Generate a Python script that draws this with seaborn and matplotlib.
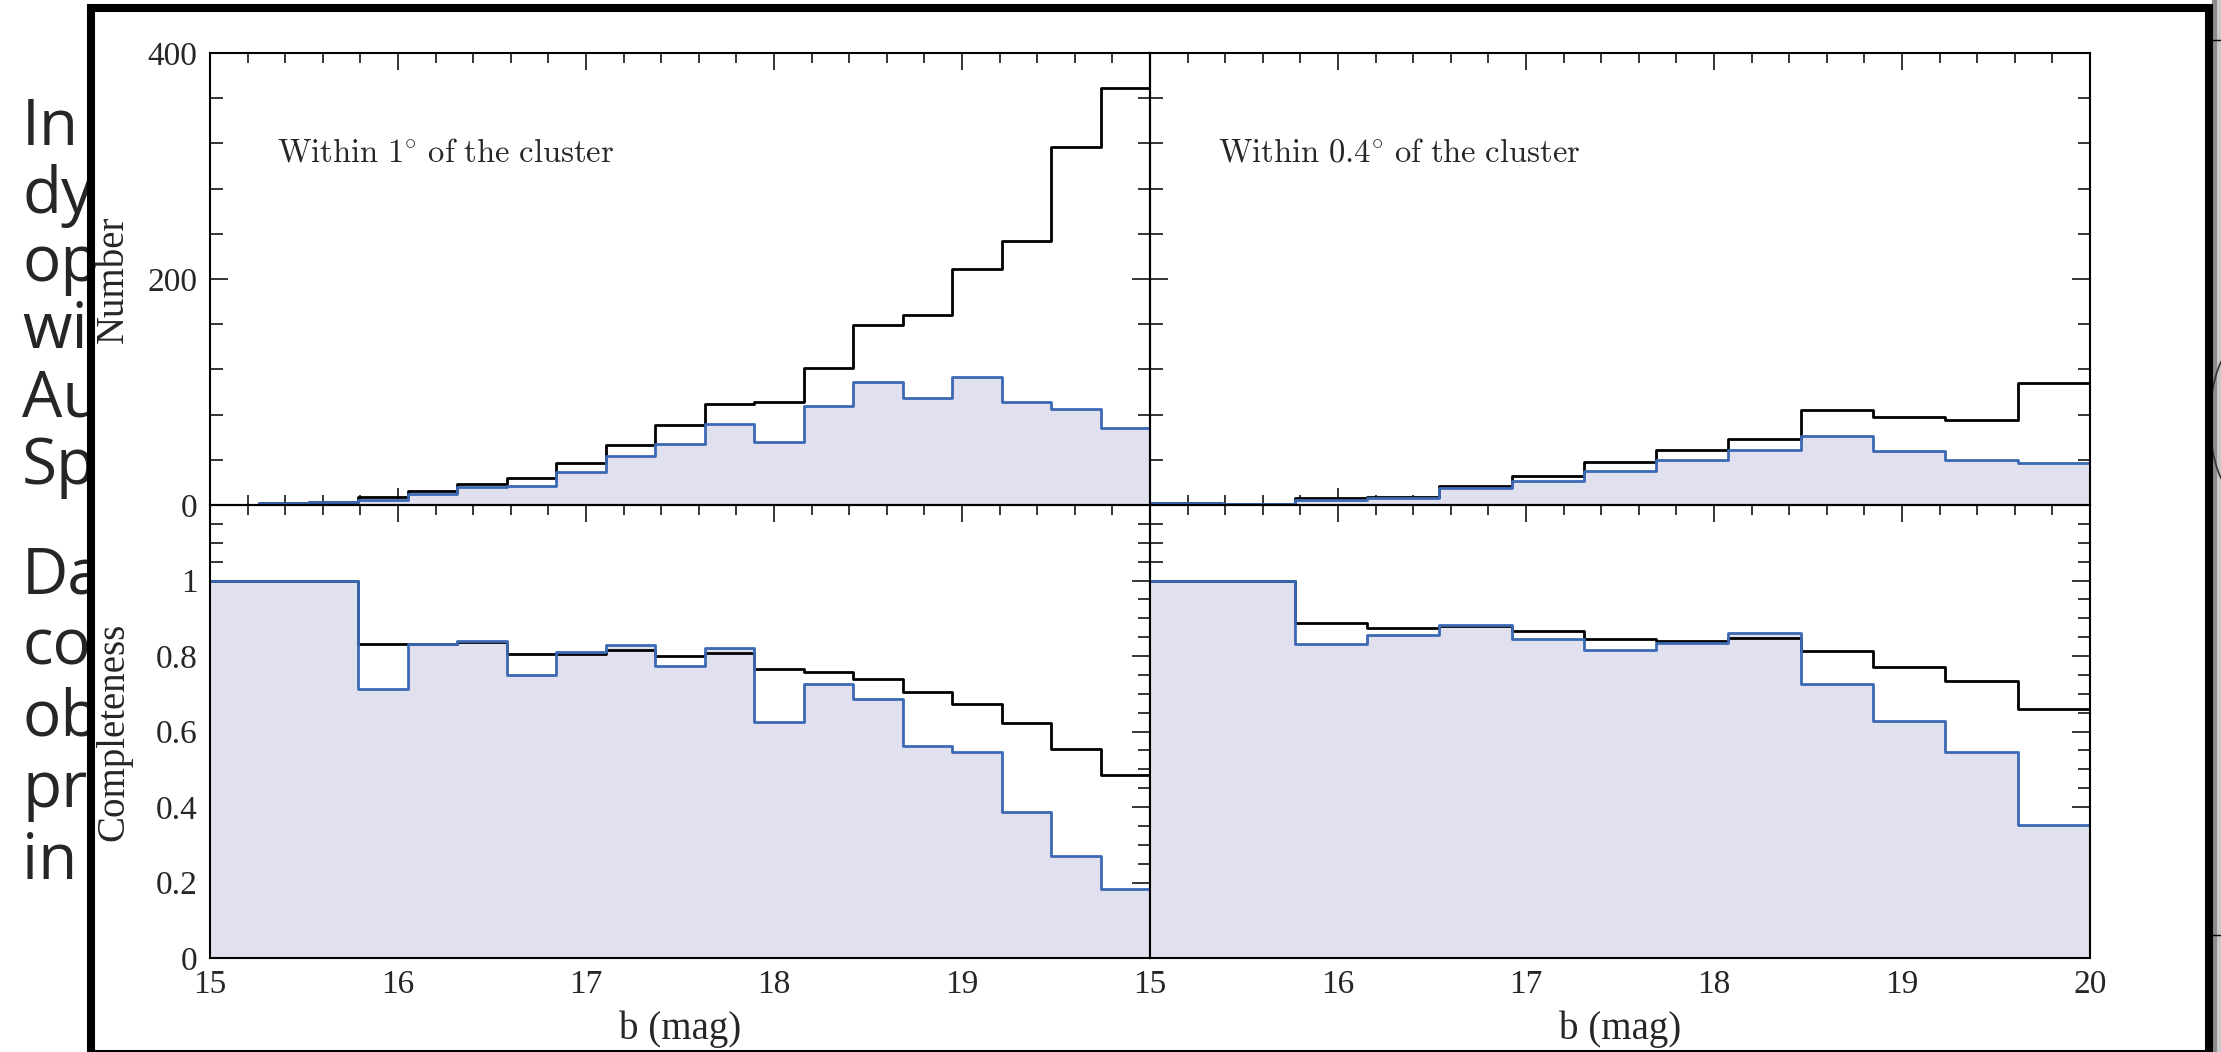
import numpy as np
import pandas as pd
import matplotlib
matplotlib.use("Agg")
import matplotlib.pyplot as plt
import seaborn as sns
from matplotlib.patches import Rectangle, Arc
from matplotlib.lines import Line2D
from matplotlib.ticker import MultipleLocator

# ---------------- data ----------------
mag_min, mag_max = 15.0, 20.0
n_bins_1deg = 19
n_bins_04deg = 13

number_all_1deg = [0, 2, 3, 7, 12, 19, 24, 37, 53, 71, 89, 91, 121, 159, 168, 209, 234, 317, 369]
number_sel_1deg = [0, 2, 3, 4, 10, 16, 17, 29, 43, 54, 72, 56, 88, 109, 95, 113, 91, 85, 68]
number_all_04deg = [2, 1, 6, 7, 17, 26, 38, 49, 58, 84, 78, 75, 108]
number_sel_04deg = [2, 1, 4, 6, 15, 21, 30, 40, 49, 61, 48, 40, 37]

comp_all_1deg = [1, 1, 1, 0.832, 0.832, 0.836, 0.804, 0.806, 0.816, 0.801, 0.807,
                 0.766, 0.757, 0.740, 0.705, 0.674, 0.623, 0.553, 0.484]
comp_sel_1deg = [1, 1, 1, 0.713, 0.832, 0.841, 0.749, 0.811, 0.829, 0.773, 0.820,
                 0.626, 0.726, 0.685, 0.562, 0.545, 0.388, 0.269, 0.183]
comp_all_04deg = [1, 1, 0.888, 0.875, 0.880, 0.865, 0.845, 0.841, 0.849, 0.814, 0.772, 0.734, 0.659]
comp_sel_04deg = [1, 1, 0.832, 0.855, 0.883, 0.845, 0.816, 0.835, 0.862, 0.726, 0.628, 0.545, 0.351]

panel_labels = [r"$\mathrm{Within\ 1^{\circ}\ of\ the\ cluster}$",
                r"$\mathrm{Within\ 0.4^{\circ}\ of\ the\ cluster}$"]
xlabel_text = "b (mag)"
ylabel_top = "Number"
ylabel_bottom = "Completeness"
number_ticks = [0, 200, 400]
number_ticklabels = ["0", "200", "400"]
comp_ticks = [0, 0.2, 0.4, 0.6, 0.8, 1.0]
comp_ticklabels = ["0", "0.2", "0.4", "0.6", "0.8", "1"]
mag_ticks = [15, 16, 17, 18, 19, 20]
mag_ticklabels_left = ["15", "16", "17", "18", "19", ""]
mag_ticklabels_right = ["15", "16", "17", "18", "19", "20"]

slide_lines_top = ["In", "dy", "op", "wi", "Au", "Sp"]
slide_lines_bottom = ["Da", "co", "ob", "pre", "in"]

# ---------------- style ----------------
BLUE = "#3b69b3"
FILL = "#e0e0ee"
W, H = 2221, 1052

sns.set_style("ticks")
plt.rcParams["font.family"] = ["Liberation Serif", "DejaVu Serif"]
plt.rcParams["mathtext.fontset"] = "cm"

fig = plt.figure(figsize=(W / 100, H / 100), dpi=100)
fig.patch.set_facecolor("white")


def fx(px):
    return px / W


def fy(py):
    return 1 - py / H


# slide text behind the pasted chart
for i, s in enumerate(slide_lines_top):
    fig.text(fx(22), fy(145 + 67.8 * i), s, fontsize=46, family=["Open Sans", "DejaVu Sans"],
             ha="left", va="baseline", zorder=-3)
for i, s in enumerate(slide_lines_bottom):
    fig.text(fx(22), fy(593 + 71.5 * i), s, fontsize=46, family=["Open Sans", "DejaVu Sans"],
             ha="left", va="baseline", zorder=-3)

# right-edge slide elements (shadow, lines, bracket)
fig.add_artist(Rectangle((fx(2212), 0), fx(2217) - fx(2212), 1, transform=fig.transFigure,
                         facecolor="#8c8c8c", edgecolor="none", zorder=-2.5))
fig.add_artist(Rectangle((fx(2217), 0), fx(2221) - fx(2217), 1, transform=fig.transFigure,
                         facecolor="#c8c8c8", edgecolor="none", zorder=-2.5))
fig.add_artist(Line2D([fx(2212), fx(2221)], [fy(40), fy(40)], transform=fig.transFigure,
                      color="black", lw=1, zorder=-2.4))
fig.add_artist(Line2D([fx(2212), fx(2221)], [fy(935), fy(935)], transform=fig.transFigure,
                      color="black", lw=1, zorder=-2.4))
fig.add_artist(Arc((fx(2240), fy(420)), fx(60), 150 / H, theta1=90, theta2=270,
                   transform=fig.transFigure, color="#333333", lw=1.2, zorder=-2.4))

# chart frame
fig.add_artist(Rectangle((fx(91), fy(1054)), fx(2209) - fx(91), fy(8) - fy(1054),
                         transform=fig.transFigure, facecolor="white", edgecolor="black",
                         linewidth=5.8, zorder=-2))

# ---------------- axes ----------------
L0, SPLIT, R1 = 210, 1150, 2090
T0, MID, B1 = 53, 505, 958

ax_tl = fig.add_axes([fx(L0), fy(MID), fx(SPLIT) - fx(L0), fy(T0) - fy(MID)])
ax_tr = fig.add_axes([fx(SPLIT), fy(MID), fx(R1) - fx(SPLIT), fy(T0) - fy(MID)])
ax_bl = fig.add_axes([fx(L0), fy(B1), fx(SPLIT) - fx(L0), fy(MID) - fy(B1)])
ax_br = fig.add_axes([fx(SPLIT), fy(B1), fx(R1) - fx(SPLIT), fy(MID) - fy(B1)])


def draw_panel(ax, n_bins, all_vals, sel_vals):
    edges = np.linspace(mag_min, mag_max, n_bins + 1)
    centers = 0.5 * (edges[:-1] + edges[1:])
    bin_list = [float(e) for e in edges]
    df = pd.DataFrame({"mag": centers, "all": all_vals, "sel": sel_vals})
    sns.histplot(data=df, x="mag", weights="sel", bins=bin_list, element="step", fill=True,
                 color=FILL, alpha=1, linewidth=0, ax=ax, zorder=1)
    sns.histplot(data=df, x="mag", weights="all", bins=bin_list, element="step", fill=False,
                 color="black", linewidth=2.0, ax=ax, zorder=2.1)
    sns.histplot(data=df, x="mag", weights="sel", bins=bin_list, element="step", fill=False,
                 color=BLUE, linewidth=2.0, ax=ax, zorder=2.2)


draw_panel(ax_tl, n_bins_1deg, number_all_1deg, number_sel_1deg)
draw_panel(ax_tr, n_bins_04deg, number_all_04deg, number_sel_04deg)
draw_panel(ax_bl, n_bins_1deg, comp_all_1deg, comp_sel_1deg)
draw_panel(ax_br, n_bins_04deg, comp_all_04deg, comp_sel_04deg)

for ax in (ax_tl, ax_tr, ax_bl, ax_br):
    ax.set_facecolor("none")
    ax.set_xlim(mag_min, mag_max)
    ax.set_xlabel("")
    ax.set_ylabel("")
    ax.xaxis.set_minor_locator(MultipleLocator(0.2))
    ax.tick_params(axis="both", which="both", direction="in", top=True, right=True,
                   bottom=True, left=True, color="black", width=1.1, labelsize=24)
    ax.tick_params(axis="x", which="major", length=12, pad=8)
    ax.tick_params(axis="x", which="minor", length=7)
    ax.tick_params(axis="y", which="major", length=13, pad=9)
    ax.tick_params(axis="y", which="minor", length=9)
    for sp in ax.spines.values():
        sp.set_visible(True)
        sp.set_color("black")
        sp.set_linewidth(1.5)

for ax in (ax_tl, ax_tr):
    ax.set_ylim(0, 400)
    ax.set_yticks(number_ticks, labels=number_ticklabels)
    ax.yaxis.set_minor_locator(MultipleLocator(40))
    ax.set_xticks(mag_ticks)
    ax.tick_params(axis="x", labelbottom=False)

for ax in (ax_bl, ax_br):
    ax.set_ylim(0, 1.2)
    ax.set_yticks(comp_ticks, labels=comp_ticklabels)
    ax.yaxis.set_minor_locator(MultipleLocator(0.05))

ax_bl.set_xticks(mag_ticks, labels=mag_ticklabels_left)
ax_br.set_xticks(mag_ticks, labels=mag_ticklabels_right)

for ax in (ax_tr, ax_br):
    ax.tick_params(axis="y", labelleft=False)

ax_tl.text(0.0713, 0.761, panel_labels[0], transform=ax_tl.transAxes, fontsize=23.5,
           ha="left", va="baseline")
ax_tr.text(0.0723, 0.761, panel_labels[1], transform=ax_tr.transAxes, fontsize=23.5,
           ha="left", va="baseline")

ax_tl.set_ylabel(ylabel_top, fontsize=28)
ax_tl.yaxis.set_label_coords(-0.083, 0.5)
ax_bl.set_ylabel(ylabel_bottom, fontsize=28)
ax_bl.yaxis.set_label_coords(-0.083, 0.5)

ax_bl.set_xlabel(xlabel_text, fontsize=28, labelpad=8)
ax_br.set_xlabel(xlabel_text, fontsize=28, labelpad=8)

fig.savefig("out.png", dpi=100, facecolor="white")
